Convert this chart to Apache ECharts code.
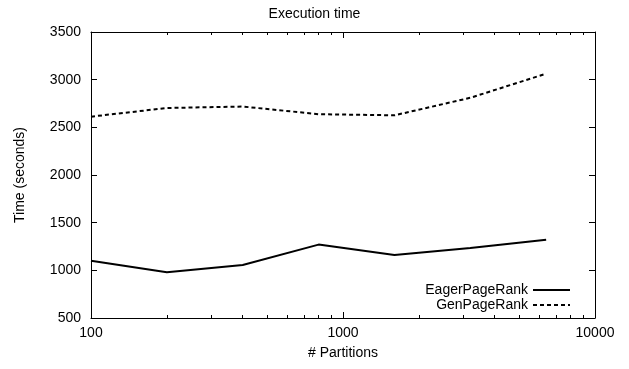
<!DOCTYPE html>
<html>
<head>
<meta charset="utf-8">
<script src="https://cdn.jsdelivr.net/npm/echarts@6/dist/echarts.min.js"></script>
<style>html,body{margin:0;padding:0;background:#fff}#c{width:629px;height:369px}</style>
</head>
<body>
<div id="c"></div>
<script>
const partitions = [100, 200, 400, 800, 1600, 3200, 6400];
const eagerPageRank = [1100, 980, 1055, 1270, 1160, 1235, 1320];
const genPageRank = [2612, 2703, 2718, 2638, 2626, 2810, 3063];
const xMajorTicks = [100, 1000, 10000];
const xMinorTicks = [200, 300, 400, 500, 600, 700, 800, 900, 2000, 3000, 4000, 5000, 6000, 7000, 8000, 9000];

const FONT = 'Liberation Sans';
const FS = 14;
const chart = echarts.init(document.getElementById('c'));
const gridBox = {left: 91, right: 34, top: 32, bottom: 51};
const black = '#000';
const plain = v => String(v);

function pairs(xs, ys) { return xs.map((x, i) => [x, ys[i]]); }

const baseX = {type: 'log', logBase: 10, min: 100, max: 10000, splitLine: {show: false}};

chart.setOption({
  animation: false,
  backgroundColor: '#fff',
  textStyle: {fontFamily: FONT, color: black},
  title: {
    text: 'Execution time', left: 'center', top: 2,
    textStyle: {fontFamily: FONT, fontSize: FS, fontWeight: 'normal', color: black}
  },
  grid: [Object.assign({}, gridBox), Object.assign({}, gridBox)],
  legend: {
    orient: 'vertical', right: 53, top: 278, align: 'right',
    itemWidth: 37, itemHeight: 14, itemGap: 1,
    itemStyle: {opacity: 0},
    textStyle: {fontFamily: FONT, fontSize: FS, color: black},
    data: ['EagerPageRank', 'GenPageRank']
  },
  xAxis: [
    Object.assign({}, baseX, {
      gridIndex: 0, position: 'bottom',
      name: '# Partitions', nameLocation: 'middle', nameGap: 28,
      nameTextStyle: {fontFamily: FONT, fontSize: FS, color: black},
      axisLine: {show: true, lineStyle: {color: black, width: 1}},
      axisTick: {show: true, inside: true, length: 6, lineStyle: {color: black}, customValues: xMajorTicks},
      axisLabel: {fontFamily: FONT, fontSize: FS, color: black, margin: 8, customValues: xMajorTicks, formatter: plain}
    }),
    Object.assign({}, baseX, {
      gridIndex: 0, position: 'top',
      axisLine: {show: true, lineStyle: {color: black, width: 1}},
      axisTick: {show: true, inside: true, length: 6, lineStyle: {color: black}, customValues: xMajorTicks},
      axisLabel: {show: false}
    }),
    Object.assign({}, baseX, {
      gridIndex: 1, position: 'bottom',
      axisLine: {show: false},
      axisTick: {show: true, inside: true, length: 3, lineStyle: {color: black}, customValues: xMinorTicks},
      axisLabel: {show: false}
    }),
    Object.assign({}, baseX, {
      gridIndex: 1, position: 'top',
      axisLine: {show: false},
      axisTick: {show: true, inside: true, length: 3, lineStyle: {color: black}, customValues: xMinorTicks},
      axisLabel: {show: false}
    })
  ],
  yAxis: [
    {
      type: 'value', gridIndex: 0, position: 'left', min: 500, max: 3500, interval: 500,
      name: 'Time (seconds)', nameLocation: 'middle', nameGap: 64, nameRotate: 90,
      nameTextStyle: {fontFamily: FONT, fontSize: FS, color: black},
      splitLine: {show: false},
      axisLine: {show: true, lineStyle: {color: black, width: 1}},
      axisTick: {show: true, inside: true, length: 6, lineStyle: {color: black}},
      axisLabel: {fontFamily: FONT, fontSize: FS, color: black, margin: 10, formatter: plain}
    },
    {
      type: 'value', gridIndex: 0, position: 'right', min: 500, max: 3500, interval: 500,
      splitLine: {show: false},
      axisLine: {show: true, lineStyle: {color: black, width: 1}},
      axisTick: {show: true, inside: true, length: 6, lineStyle: {color: black}},
      axisLabel: {show: false}
    },
    {
      type: 'value', gridIndex: 1, min: 500, max: 3500, interval: 500, show: false
    }
  ],
  series: [
    {
      name: 'EagerPageRank', type: 'line', xAxisIndex: 0, yAxisIndex: 0,
      data: pairs(partitions, eagerPageRank), symbol: 'none',
      lineStyle: {color: black, width: 2}, itemStyle: {color: black}
    },
    {
      name: 'GenPageRank', type: 'line', xAxisIndex: 0, yAxisIndex: 0,
      data: pairs(partitions, genPageRank), symbol: 'none',
      lineStyle: {color: black, width: 2, type: [4, 3]}, itemStyle: {color: black}
    }
  ]
});
</script>
</body>
</html>
